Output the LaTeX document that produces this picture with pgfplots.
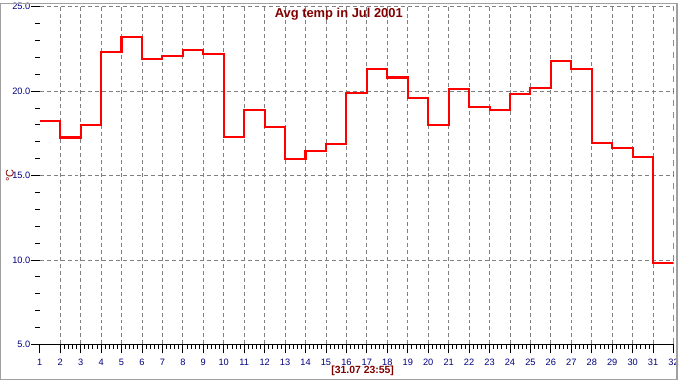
\documentclass[border=0pt]{standalone}
\usepackage{pgfplots}
\pgfplotsset{compat=1.18}
\usepackage{fontspec}
\setmainfont{Liberation Sans}
\definecolor{navy}{HTML}{000080}
\definecolor{maroon}{HTML}{800000}
\definecolor{gridgray}{HTML}{808080}
\definecolor{dgreen}{HTML}{008000}
\definecolor{frame}{HTML}{A0A0A0}
\begin{document}
\begin{tikzpicture}
\begin{axis}[
  name=a,
  set layers=standard,
  axis on top=false,
  scale only axis,
  width=638pt, height=340pt,
  xmin=1, xmax=32, ymin=5, ymax=25,
  axis x line*=bottom, axis y line*=left,
  x axis line style={-, black, line width=0.8pt},
  y axis line style={draw=none},
  tick align=outside,
  major tick length=9pt, minor tick length=4.5pt,
  every tick/.style={black, line width=0.8pt},
  xtick={2,...,31},
  extra x ticks={1,32},
  extra x tick labels={1,32},
  extra x tick style={grid=none},
  minor x tick num=4,
  ytick={5,10,15,20,25},
  minor y tick num=4,
  xmajorgrids, ymajorgrids,
  major grid style={gridgray, line width=0.8pt, dash pattern=on 4pt off 3pt},
  /pgf/number format/assume math mode=true,
  yticklabel style={/pgf/number format/fixed, /pgf/number format/fixed zerofill, /pgf/number format/precision=1, xshift=3pt},
  ticklabel style={font=\fontsize{9.3}{11}\selectfont, text=navy},
  xticklabel style={yshift=-2pt},
]
\addplot[const plot, red, line width=2.1pt] coordinates {
(1,18.2) (2,17.25) (3,18.0) (4,22.3) (5,23.2) (6,21.9) (7,22.1) (8,22.45)
(9,22.2) (10,17.3) (11,18.9) (12,17.85) (13,15.95) (14,16.45) (15,16.85)
(16,19.9) (17,21.3) (18,20.8) (19,19.6) (20,18.0) (21,20.1) (22,19.05)
(23,18.9) (24,19.8) (25,20.2) (26,21.8) (27,21.3) (28,16.9) (29,16.6)
(30,16.1) (31,9.8) (32,9.8)
};
\draw[dgreen, line width=0.8pt, dash pattern=on 6pt off 6pt] (axis cs:32,5) -- (axis cs:32,25);
\end{axis}
\draw[frame, line width=1.5pt] ([shift={(-39.25pt,-35.25pt)}]a.south west) rectangle ([shift={(3.25pt,3.25pt)}]a.north east);
\node[text=maroon, font=\fontsize{13}{15}\selectfont\bfseries] at ([xshift=-18pt,yshift=-8pt]a.north) {Avg temp in Jul 2001};
\node[text=maroon, font=\fontsize{10.5}{12}\selectfont\bfseries] at ([xshift=6pt,yshift=-27pt]a.south) {[31.07 23:55]};
\node[text=maroon, rotate=90, font=\fontsize{11}{12}\selectfont] at ([xshift=-30pt]a.west) {°C};
\end{tikzpicture}
\end{document}
